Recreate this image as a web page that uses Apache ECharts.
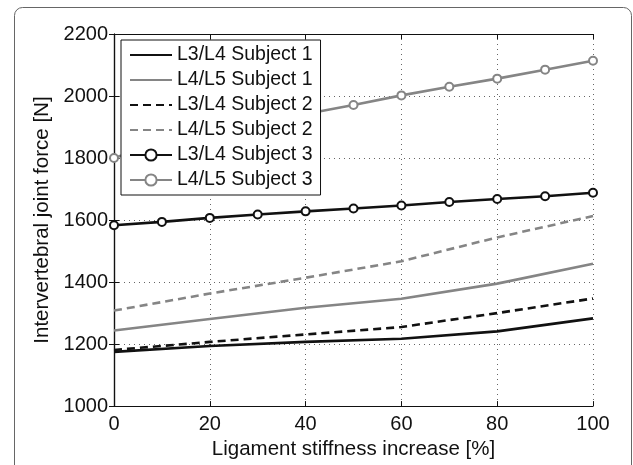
<!DOCTYPE html>
<html>
<head>
<meta charset="utf-8">
<script src="https://cdn.jsdelivr.net/npm/echarts@6/dist/echarts.min.js"></script>
<style>
html, body { margin: 0; padding: 0; background: #fff; }
#chart { width: 633px; height: 465px; }
</style>
</head>
<body>
<div id="chart"></div>
<script>
// x positions (ligament stiffness increase, %)
var xCoarse = [0, 20, 40, 60, 80, 100];
var xFine = [0, 10, 20, 30, 40, 50, 60, 70, 80, 90, 100];

// values [N]
var l34s1 = [1175, 1194, 1207, 1217, 1241, 1283];
var l45s1 = [1244, 1281, 1317, 1346, 1395, 1459];
var l34s2 = [1181, 1207, 1231, 1255, 1300, 1347];
var l45s2 = [1308, 1363, 1414, 1467, 1544, 1613];
var l34s3 = [1583, 1594, 1607, 1618, 1628, 1637, 1647, 1658, 1668, 1677, 1688];
var l45s3 = [1800, 1850, 1882, 1912, 1942, 1971, 2002, 2030, 2056, 2085, 2114];

var names = ["L3/L4 Subject 1", "L4/L5 Subject 1", "L3/L4 Subject 2", "L4/L5 Subject 2", "L3/L4 Subject 3", "L4/L5 Subject 3"];
var hasMarker = [false, false, false, false, true, true];

var BLACK = "#111111";
var GRAY = "#858585";
var FONT = "Liberation Sans";

function pairs(xs, ys) {
    var out = [];
    for (var i = 0; i < xs.length; i++) {
        out.push([xs[i], ys[i]]);
    }
    return out;
}

function mkLine(name, xs, ys, color, dashed, marker) {
    return {
        name: name,
        type: "line",
        data: pairs(xs, ys),
        symbol: marker ? "emptyCircle" : "none",
        symbolSize: 8,
        showSymbol: marker,
        lineStyle: { color: color, width: 2.6, type: dashed ? [8, 5] : "solid" },
        itemStyle: { color: color, borderColor: color, borderWidth: 2.6 },
        animation: false,
        z: 3
    };
}

// legend entries: hide the symbol for plain lines
var legendData = [];
for (var i = 0; i < names.length; i++) {
    if (hasMarker[i]) legendData.push({ name: names[i] });
    else legendData.push({ name: names[i], itemStyle: { opacity: 0 } });
}

var chart = echarts.init(document.getElementById("chart"), null, { renderer: "canvas" });

var gridLine = { show: true, lineStyle: { color: "#666", type: [1, 4], width: 1 } };
var plain = function (v) { return String(v); };

var option = {
    backgroundColor: "#fff",
    animation: false,
    textStyle: { fontFamily: FONT },
    graphic: [{
        type: "rect",
        left: 12, top: 5,
        shape: { width: 617, height: 500, r: 8 },
        style: { fill: "none", stroke: "#666", lineWidth: 1 },
        z: -1
    }],
    grid: { left: 114, right: 40, top: 34, bottom: 54 },
    legend: {
        orient: "vertical",
        left: 121, top: 40,
        data: legendData,
        itemWidth: 42, itemHeight: 14, itemGap: 5,
        padding: [5, 8, 5, 8],
        backgroundColor: "#fff",
        borderColor: "#111", borderWidth: 1,
        textStyle: { color: "#111", fontFamily: FONT, fontSize: 19.5, lineHeight: 20 },
        selectedMode: false,
        z: 10
    },
    xAxis: [{
        type: "value", min: 0, max: 100, interval: 20,
        name: "Ligament stiffness increase [%]",
        nameLocation: "middle", nameGap: 28,
        nameTextStyle: { color: "#111", fontFamily: FONT, fontSize: 20.5 },
        axisLine: { lineStyle: { color: "#111", width: 1.2 } },
        axisTick: { inside: true, length: 5, lineStyle: { color: "#111" } },
        axisLabel: { color: "#111", fontFamily: FONT, fontSize: 20, margin: 8, formatter: plain },
        splitLine: gridLine
    }, {
        type: "value", min: 0, max: 100, interval: 20, position: "top",
        axisLine: { show: true, lineStyle: { color: "#111", width: 1.2 } },
        axisTick: { show: true, inside: true, length: 5, lineStyle: { color: "#111" } },
        axisLabel: { show: false },
        splitLine: { show: false }
    }],
    yAxis: [{
        type: "value", min: 1000, max: 2200, interval: 200,
        name: "Intervertebral joint force [N]",
        nameLocation: "middle", nameGap: 54,
        nameTextStyle: { color: "#111", fontFamily: FONT, fontSize: 20.5 },
        axisLine: { show: true, lineStyle: { color: "#111", width: 1.2 } },
        axisTick: { show: true, inside: true, length: 5, lineStyle: { color: "#111" } },
        axisLabel: { color: "#111", fontFamily: FONT, fontSize: 20, margin: 6, formatter: plain },
        splitLine: gridLine
    }, {
        type: "value", min: 1000, max: 2200, interval: 200, position: "right",
        axisLine: { show: true, lineStyle: { color: "#111", width: 1.2 } },
        axisTick: { show: true, inside: true, length: 5, lineStyle: { color: "#111" } },
        axisLabel: { show: false },
        splitLine: { show: false }
    }],
    series: [
        mkLine(names[0], xCoarse, l34s1, BLACK, false, false),
        mkLine(names[1], xCoarse, l45s1, GRAY, false, false),
        mkLine(names[2], xCoarse, l34s2, BLACK, true, false),
        mkLine(names[3], xCoarse, l45s2, GRAY, true, false),
        mkLine(names[4], xFine, l34s3, BLACK, false, true),
        mkLine(names[5], xFine, l45s3, GRAY, false, true)
    ]
};

chart.setOption(option);
</script>
</body>
</html>
